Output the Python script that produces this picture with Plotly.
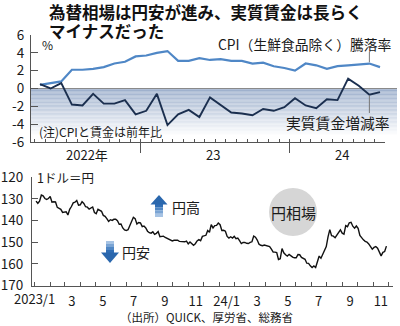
import plotly.graph_objects as go
import pandas as pd

# ---------------- data ----------------
# top chart: monthly, Jan 2022 .. Sep 2024 (index 0..32)
month_idx = list(range(33))
cpi = [0.4, 0.6, 0.8, 2.1, 2.1, 2.2, 2.4, 2.8, 3.0, 3.6, 3.7, 4.0,
       4.2, 3.1, 3.1, 3.4, 3.2, 3.3, 3.1, 3.1, 2.8, 2.9, 2.5, 2.3,
       2.0, 2.8, 2.6, 2.2, 2.5, 2.6, 2.7, 2.8, 2.4]
real_wage = [0.5, 0.0, 0.6, -1.8, -1.9, -0.6, -1.7, -1.7, -1.3, -2.9, -2.5, -0.6,
             -4.1, -2.9, -2.4, -3.2, -1.0, -1.8, -2.7, -2.8, -3.0, -2.3, -2.5, -2.1,
             -1.1, -1.9, -2.2, -1.2, -1.3, 1.1, 0.3, -0.7, -0.4]
top_y_ticks = [6, 4, 2, 0, -2, -4, -6]
top_y_text = ["6", "4", "2", "0", "-2", "-4", "-6"]
year_labels = ["2022年", "23", "24"]
year_label_pos = [4.4, 16.3, 28.4]
year_sep = [9.5, 23.5]

# bottom chart: yen per dollar, every ~3.5 days from 2023-01-04
yen_2023 = [
    131.0, 132.0, 131.0, 128.2, 128.6, 129.8, 130.2, 129.8,
    128.9, 131.5, 131.3, 131.4, 133.9, 134.3, 134.8, 136.2,
    136.2, 135.9, 137.4, 134.8, 133.5, 131.8, 131.5, 130.7, 132.9,
    132.7, 131.3, 132.1, 133.6, 133.8, 134.7, 134.2, 133.7, 136.3,
    136.8, 134.8, 135.1, 135.7, 137.6, 138.0, 139.1, 140.4, 139.6,
    139.9, 139.4, 139.4, 140.1, 141.7, 141.6, 143.4, 144.3,
    144.6, 144.2, 142.5, 140.0, 138.5, 139.1, 141.6, 140.9, 141.1,
    142.8, 142.5, 143.4, 144.9, 145.6, 145.8, 145.2, 146.4, 145.9,
    145.1, 147.5, 147.3, 147.2, 147.8, 148.2, 148.4, 149.0, 149.4,
    149.1, 149.2, 149.1, 149.6, 149.7, 149.9, 149.8, 149.5,
    150.8, 149.9, 150.5, 151.4, 150.7, 149.4, 148.8, 149.3, 147.3,
    146.9, 146.8, 144.6, 145.4, 141.9, 143.4, 142.3, 142.2, 141.1,
]
yen_2024 = [
    141.9, 144.6, 144.5, 144.9, 147.3, 148.1, 147.5, 148.1, 147.3,
    148.4, 148.1, 149.3, 150.6, 150.1, 150.1, 150.5, 150.6,
    150.1, 149.8, 147.2, 147.7, 149.0, 150.9, 151.4, 151.6, 151.3,
    151.6, 151.6, 152.0, 153.2, 154.6, 154.6, 154.8, 158.0,
    157.6, 152.9, 154.9, 155.8, 156.4, 155.6, 156.3, 156.9, 157.2,
    157.2, 155.7, 155.8, 157.0, 157.4, 157.9, 159.7, 159.8, 160.9,
    161.7, 161.0, 161.7, 159.0, 156.4, 157.4, 155.6, 153.7, 152.0,
    147.5, 144.2, 147.0, 147.2, 147.9, 146.5, 145.2, 144.3, 145.8,
    146.3, 142.3, 142.8, 141.0, 140.8, 142.6, 143.5, 142.5,
    143.6, 146.9, 148.2, 148.9, 149.6, 149.9, 150.8, 151.9, 153.2,
    152.4, 152.0, 152.8, 154.6, 156.3, 154.7, 154.3, 151.8,
]
yen = yen_2023 + yen_2024
yen_dates = pd.date_range("2023-01-04", periods=len(yen), freq="84h")
bottom_y_ticks = [120, 130, 140, 150, 160, 170]
bottom_x_tickvals = ["2023-01-16", "2023-03-16", "2023-05-16", "2023-07-16", "2023-09-16",
                     "2023-11-16", "2024-01-16", "2024-03-16", "2024-05-16", "2024-07-16",
                     "2024-09-16", "2024-11-16"]
bottom_x_ticktext = ["", "3", "5", "7", "9", "11", "24/1", "3", "5", "7", "9", "11"]

# ---------------- layout helpers ----------------
W, H = 400, 326
FONT = "Noto Sans CJK JP"
AX = "#555555"


def px(x):
    return x / W


def py(y):
    return 1 - y / H


fig = go.Figure()

fig.add_trace(go.Scatter(x=month_idx, y=cpi, mode="lines",
                         line=dict(color="#4f87c6", width=2.2),
                         xaxis="x", yaxis="y", hoverinfo="skip"))
fig.add_trace(go.Scatter(x=month_idx, y=real_wage, mode="lines",
                         line=dict(color="#1b2f4f", width=1.9),
                         xaxis="x", yaxis="y", hoverinfo="skip"))
fig.add_trace(go.Scatter(x=yen_dates, y=yen, mode="lines",
                         line=dict(color="#111111", width=1.4),
                         xaxis="x2", yaxis="y2", hoverinfo="skip"))

shapes = []
# gradient shading below zero (top chart)
nb = 40
c0 = (155, 174, 203)
for k in range(nb):
    ya = -6 * k / nb
    yb = -6 * (k + 1) / nb
    t = min(1.0, (k + 0.5) / nb * 6 / 5.3)
    col = tuple(int(round(c0[j] + (255 - c0[j]) * t)) for j in range(3))
    shapes.append(dict(type="rect", xref="paper", yref="y", x0=px(31), x1=px(397),
                       y0=yb, y1=ya, fillcolor="rgb(%d,%d,%d)" % col,
                       line=dict(width=0), layer="below"))
# zero line
shapes.append(dict(type="line", xref="paper", yref="y", x0=px(31), x1=px(397), y0=0, y1=0,
                   line=dict(color="#8a8a8a", width=1), layer="below"))
# leader lines
shapes.append(dict(type="line", xref="x", yref="y", x0=31, x1=31, y0=2.95, y1=4.1,
                   line=dict(color="#777777", width=1)))
shapes.append(dict(type="line", xref="x", yref="y", x0=31, x1=31, y0=-0.8, y1=-2.75,
                   line=dict(color="#777777", width=1)))
# circle behind 円相場
shapes.append(dict(type="circle", xref="paper", yref="paper",
                   x0=px(269), x1=px(317), y0=py(236), y1=py(188),
                   fillcolor="#d6d6d6", line=dict(width=0), layer="below"))


def poly(points, color):
    d = "M " + " L ".join("%.5f,%.5f" % (px(a), py(b)) for a, b in points) + " Z"
    return dict(type="path", xref="paper", yref="paper", path=d,
                fillcolor=color, line=dict(width=0))


# up arrow (円高)
cx = 159
shaft_cols = ["#2f6db4", "#4f86c4", "#7aa4d4", "#a6c3e4"]
y_top, y_head, y_end = 195, 204, 217
seg = (y_end - y_head) / 4
for i, c in enumerate(shaft_cols):
    a = y_head + seg * i
    b = y_head + seg * (i + 1)
    shapes.append(poly([(cx - 4, a), (cx + 4, a), (cx + 4, b), (cx - 4, b)], c))
shapes.append(poly([(cx, y_top), (cx + 8.5, y_head + 0.5), (cx - 8.5, y_head + 0.5)], "#2a67ad"))
# down arrow (円安)
cx = 110
y_top, y_head, y_tip = 241, 253, 263
seg = (y_head - y_top) / 4
for i, c in enumerate(reversed(shaft_cols)):
    a = y_top + seg * i
    b = y_top + seg * (i + 1)
    shapes.append(poly([(cx - 4, a), (cx + 4, a), (cx + 4, b), (cx - 4, b)], c))
shapes.append(poly([(cx - 9, y_head - 0.5), (cx + 9, y_head - 0.5), (cx, y_tip)], "#2a67ad"))

ann = []


def text(x, y, s, size, xanchor="left", weight="normal", color="#1a1a1a"):
    ann.append(dict(x=px(x), y=py(y), xref="paper", yref="paper", text=s, showarrow=False,
                    xanchor=xanchor, yanchor="middle", borderpad=0,
                    font=dict(family=FONT, size=size, color=color, weight=weight)))


text(48, 11.5, "為替相場は円安が進み、実質賃金は長らく", 16.5, weight="bold", color="#111")
text(48, 30.5, "マイナスだった", 16.5, weight="bold", color="#111")
text(41, 45, "%", 12)
text(393, 44, "CPI（生鮮食品除く）騰落率", 13.8, xanchor="right")
text(391, 122, "実質賃金増減率", 14.8, xanchor="right")
text(38, 131, "(注)CPIと賃金は前年比", 12)
text(36, 177, "1ドル＝円", 12.5)
text(171, 207, "円高", 14)
text(121, 252, "円安", 14)
text(293, 212, "円相場", 15, xanchor="center")
text(119, 317, "（出所）QUICK、厚労省、総務省", 11.5)
text(34, 298, "2023/1", 13, xanchor="center")
for lab, pos in zip(year_labels, year_label_pos):
    ann.append(dict(x=pos, y=py(155), xref="x", yref="paper", text=lab, showarrow=False,
                    xanchor="center", yanchor="middle",
                    font=dict(family=FONT, size=13, color="#1a1a1a")))

fig.update_layout(
    width=W, height=H,
    margin=dict(l=0, r=0, t=0, b=0, autoexpand=False),
    paper_bgcolor="white", plot_bgcolor="rgba(0,0,0,0)",
    showlegend=False,
    font=dict(family=FONT, size=13, color="#1a1a1a"),
    shapes=shapes,
    annotations=ann,
    xaxis=dict(domain=[px(31), px(385)], range=[-0.847, 32.47], anchor="y",
               showline=True, linecolor=AX, linewidth=1,
               tickmode="array", tickvals=year_sep, ticks="outside", ticklen=10,
               tickcolor=AX, showticklabels=False, showgrid=False, zeroline=False,
               minor=dict(tickmode="linear", tick0=0.5, dtick=1, ticks="inside",
                          ticklen=3, tickcolor=AX, showgrid=False)),
    yaxis=dict(domain=[py(142), py(35)], range=[-6, 6], anchor="x",
               showline=True, linecolor=AX, linewidth=1,
               tickmode="array", tickvals=top_y_ticks, ticktext=top_y_text,
               ticks="inside", ticklen=7, tickcolor=AX,
               showgrid=False, zeroline=False, tickfont=dict(size=13.5),
               ticklabelstandoff=3),
    xaxis2=dict(domain=[px(32), px(393)], range=["2022-12-27", "2024-12-10"], anchor="y2",
                type="date", showline=True, linecolor=AX, linewidth=1,
                tickmode="array", tickvals=bottom_x_tickvals, ticktext=bottom_x_ticktext,
                ticks="", showgrid=False, zeroline=False, tickfont=dict(size=13),
                ticklabelstandoff=4,
                minor=dict(tickmode="linear", tick0="2023-01-01", dtick="M1", ticks="inside",
                           ticklen=4, tickcolor=AX, showgrid=False)),
    yaxis2=dict(domain=[py(285.5), py(177.3)], range=[170, 120], anchor="x2",
                showline=True, linecolor=AX, linewidth=1,
                tickmode="array", tickvals=bottom_y_ticks,
                ticks="inside", ticklen=6, tickcolor=AX,
                showgrid=False, zeroline=False, tickfont=dict(size=13.5),
                ticklabelstandoff=5),
)

fig.write_html("out.html", config={"displayModeBar": False},
               post_script="document.body.style.margin='0';document.body.style.overflow='hidden';")
